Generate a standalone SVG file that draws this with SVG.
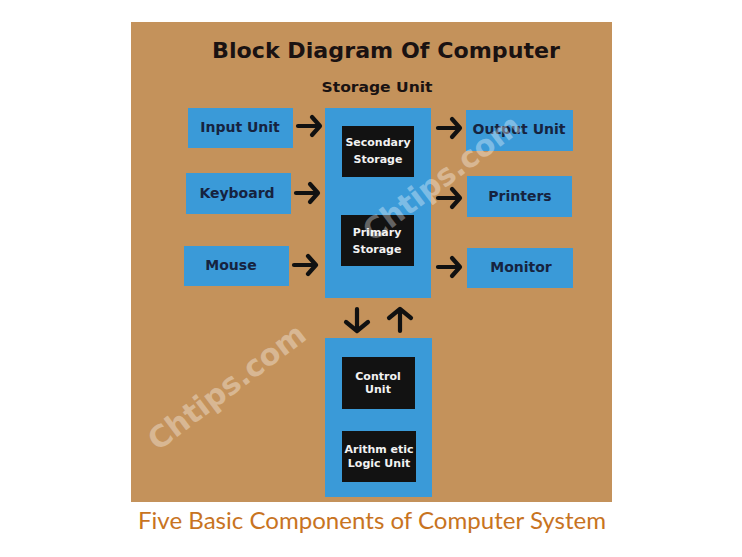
<svg xmlns="http://www.w3.org/2000/svg" width="742" height="557" viewBox="0 0 742 557">
<style>
.blue{fill:#3a9ad8}
.blk{fill:#121212}
.lbl{font-family:"DejaVu Sans",Verdana,sans-serif;font-weight:bold;font-size:14px;fill:#16233f;text-anchor:middle}
.wl{font-family:"DejaVu Sans",Verdana,sans-serif;font-weight:bold;font-size:11px;fill:#f2f2f2;text-anchor:middle}
.arr{fill:none;stroke:#111;stroke-width:4.2;stroke-linecap:round;stroke-linejoin:round}
.wm{font-family:"DejaVu Sans",Verdana,sans-serif;font-weight:bold;font-size:30px;fill:#ffffff;fill-opacity:0.35;text-anchor:middle}
</style>
<rect width="742" height="557" fill="#ffffff"/>
<rect x="131" y="22" width="481" height="480" fill="#c4925b"/>
<text x="386" y="58" font-family="DejaVu Sans,Verdana,sans-serif" font-weight="bold" font-size="21" fill="#1a1212" text-anchor="middle" textLength="348" lengthAdjust="spacingAndGlyphs">Block Diagram Of Computer</text>
<text x="377" y="92" font-family="DejaVu Sans,Verdana,sans-serif" font-weight="bold" font-size="14.5" fill="#1a1212" text-anchor="middle" textLength="111" lengthAdjust="spacingAndGlyphs">Storage Unit</text>

<g id="input-unit"><rect class="blue" x="188" y="108" width="105" height="40"/><text class="lbl" x="240" y="132">Input Unit</text></g>
<g id="keyboard"><rect class="blue" x="186" y="173" width="105" height="41"/><text class="lbl" x="237" y="198">Keyboard</text></g>
<g id="mouse"><rect class="blue" x="184" y="246" width="105" height="40"/><text class="lbl" x="231" y="270">Mouse</text></g>

<g id="storage-unit"><rect class="blue" x="325" y="108" width="106" height="190"/>
<g id="secondary-storage"><rect class="blk" x="342" y="126" width="72" height="51"/><text class="wl" x="378" y="146">Secondary</text><text class="wl" x="378" y="163">Storage</text></g>
<g id="primary-storage"><rect class="blk" x="341" y="215" width="73" height="51"/><text class="wl" x="377" y="236">Primary</text><text class="wl" x="377" y="253">Storage</text></g>
</g>

<g id="output-unit"><rect class="blue" x="466" y="110" width="107" height="41"/><text class="lbl" x="519" y="134">Output Unit</text></g>
<g id="printers"><rect class="blue" x="467" y="176" width="105" height="41"/><text class="lbl" x="520" y="201">Printers</text></g>
<g id="monitor"><rect class="blue" x="467" y="248" width="106" height="40"/><text class="lbl" x="521" y="272">Monitor</text></g>

<g id="cpu"><rect class="blue" x="325" y="338" width="107" height="159"/>
<g id="control-unit"><rect class="blk" x="342" y="357" width="73" height="52"/><text class="wl" x="378" y="380">Control</text><text class="wl" x="378" y="393">Unit</text></g>
<g id="alu"><rect class="blk" x="342" y="431" width="74" height="51"/><text class="wl" x="379" y="453">Arithm etic</text><text class="wl" x="379" y="467">Logic Unit</text></g>
</g>

<g id="connectors">
<path class="arr" d="M298 126 H320 M312 117 L320 126 L312 135"/>
<path class="arr" d="M296 193 H318 M310 184 L318 193 L310 202"/>
<path class="arr" d="M294 265 H316 M308 256 L316 265 L308 274"/>
<path class="arr" d="M438 128 H460 M452 119 L460 128 L452 137"/>
<path class="arr" d="M438 198 H460 M452 189 L460 198 L452 207"/>
<path class="arr" d="M438 267 H460 M452 258 L460 267 L452 276"/>
<path class="arr" d="M357 309 V331 M346 322 L357 331 L368 322"/>
<path class="arr" d="M400 331 V309 M389 318 L400 309 L411 318"/>
</g>

<text class="wm" transform="translate(233 395) rotate(-37)">Chtips.com</text>
<text class="wm" transform="translate(448 186) rotate(-37)">Chtips.com</text>

<text x="372" y="529" font-family="Lato,'Open Sans',sans-serif" font-size="24" fill="#c8741f" text-anchor="middle" textLength="468" lengthAdjust="spacingAndGlyphs">Five Basic Components of Computer System</text>
</svg>
